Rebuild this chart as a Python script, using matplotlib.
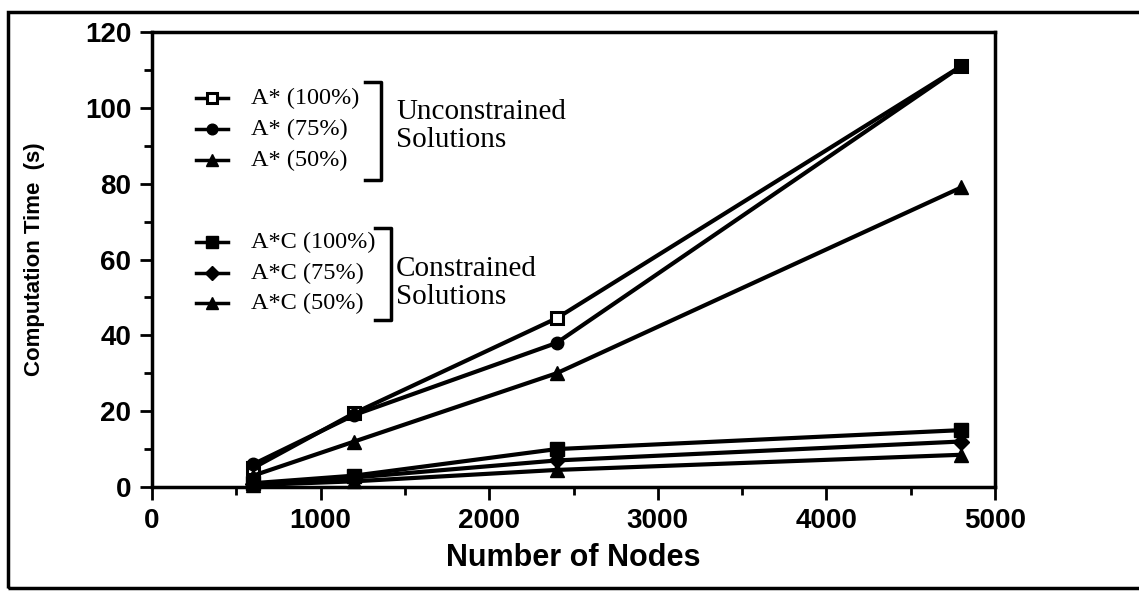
import matplotlib
matplotlib.use("Agg")
import matplotlib.pyplot as plt
from matplotlib.lines import Line2D
from matplotlib.patches import Rectangle
from matplotlib.ticker import MultipleLocator

# ---- data ----
nodes = [600, 1200, 2400, 4800]
a_100 = [5, 19.5, 44.5, 111]
a_75 = [6, 19, 38, 111]
a_50 = [3, 12, 30, 79]
ac_100 = [1, 3, 10, 15]
ac_75 = [0.8, 2.5, 7, 12]
ac_50 = [0.5, 1.5, 4.5, 8.5]
unc_labels = ["A* (100%)", "A* (75%)", "A* (50%)"]
con_labels = ["A*C (100%)", "A*C (75%)", "A*C (50%)"]
x_ticks = [0, 1000, 2000, 3000, 4000, 5000]
y_ticks = [0, 20, 40, 60, 80, 100, 120]

W, H = 1139, 592
fig = plt.figure(figsize=(W / 100, H / 100), dpi=100)
fig.patch.set_facecolor("white")

def fx(x):
    return x / W

def fy(y):
    return 1 - y / H

ax = fig.add_axes([fx(152), fy(487), fx(995) - fx(152), fy(32) - fy(487)])

styles = [
    (a_100, dict(marker="s", mfc="white", mec="black", ms=9, mew=2.2)),
    (a_75, dict(marker="o", mfc="black", mec="black", ms=9)),
    (a_50, dict(marker="^", mfc="black", mec="black", ms=10)),
    (ac_100, dict(marker="s", mfc="black", mec="black", ms=10)),
    (ac_75, dict(marker="D", mfc="black", mec="black", ms=8)),
    (ac_50, dict(marker="^", mfc="black", mec="black", ms=10)),
]
for vals, st in styles:
    ax.plot(nodes, vals, color="black", lw=3, clip_on=False, zorder=3, **st)

ax.set_xlim(0, 5000)
ax.set_ylim(0, 120)
ax.set_xticks(x_ticks)
ax.set_yticks(y_ticks)
ax.xaxis.set_minor_locator(MultipleLocator(500))
ax.yaxis.set_minor_locator(MultipleLocator(10))
ax.tick_params(which="both", direction="out", width=2, color="black")
ax.tick_params(which="major", length=9, pad=6)
ax.tick_params(which="minor", length=6)
for lab in ax.get_xticklabels() + ax.get_yticklabels():
    lab.set_fontfamily("Liberation Sans")
    lab.set_fontweight("bold")
    lab.set_fontsize(20)
for s in ax.spines.values():
    s.set_linewidth(2.5)

ax.set_xlabel("Number of Nodes", fontfamily="Liberation Sans", fontweight="bold",
              fontsize=22)
ax.set_ylabel("Computation Time  (s)", fontfamily="Liberation Sans", fontweight="bold",
              fontsize=16)
ax.xaxis.set_label_coords(0.5, (487 - 558) / 455, transform=ax.transAxes)
ax.yaxis.set_label_coords((35 - 152) / 843, 0.5, transform=ax.transAxes)
ax.xaxis.label.set_va("center")
ax.yaxis.label.set_va("center")

# ---- custom legend ----
unc_rows = [98, 129, 160]
con_rows = [242, 273, 303]
leg_styles_u = [styles[0][1], styles[1][1], styles[2][1]]
leg_styles_c = [styles[3][1], styles[4][1], styles[5][1]]

def legend_group(rows, labels, sts, bx, btop, bbot, title_lines, ty):
    for y, lab, st in zip(rows, labels, sts):
        st2 = dict(st)
        st2["ms"] = st2["ms"] * 0.85
        fig.add_artist(Line2D([fx(196), fx(228)], [fy(y), fy(y)], color="black",
                              lw=2.5, transform=fig.transFigure))
        fig.add_artist(Line2D([fx(212)], [fy(y)], color="black", lw=0,
                              transform=fig.transFigure, **st2))
        fig.text(fx(251), fy(y), lab, fontfamily="Liberation Serif", fontsize=17.5,
                 va="center", ha="left")
    fig.add_artist(Line2D([fx(bx - 16), fx(bx), fx(bx), fx(bx - 16)],
                          [fy(btop), fy(btop), fy(bbot), fy(bbot)], color="black",
                          lw=2.5, transform=fig.transFigure))
    for i, t in enumerate(title_lines):
        fig.text(fx(396), fy(ty + i * 28), t, fontfamily="Liberation Serif",
                 fontsize=21, va="center", ha="left")

legend_group(unc_rows, unc_labels, leg_styles_u, 381, 82, 180,
             ["Unconstrained", "Solutions"], 112)
legend_group(con_rows, con_labels, leg_styles_c, 391, 228, 320,
             ["Constrained", "Solutions"], 269)

# outer frame
fig.add_artist(Rectangle((fx(8), fy(588)), fx(1150) - fx(8), fy(12) - fy(588),
                         fill=False, lw=2.5, ec="black", transform=fig.transFigure))

fig.savefig("out.png", dpi=100)
